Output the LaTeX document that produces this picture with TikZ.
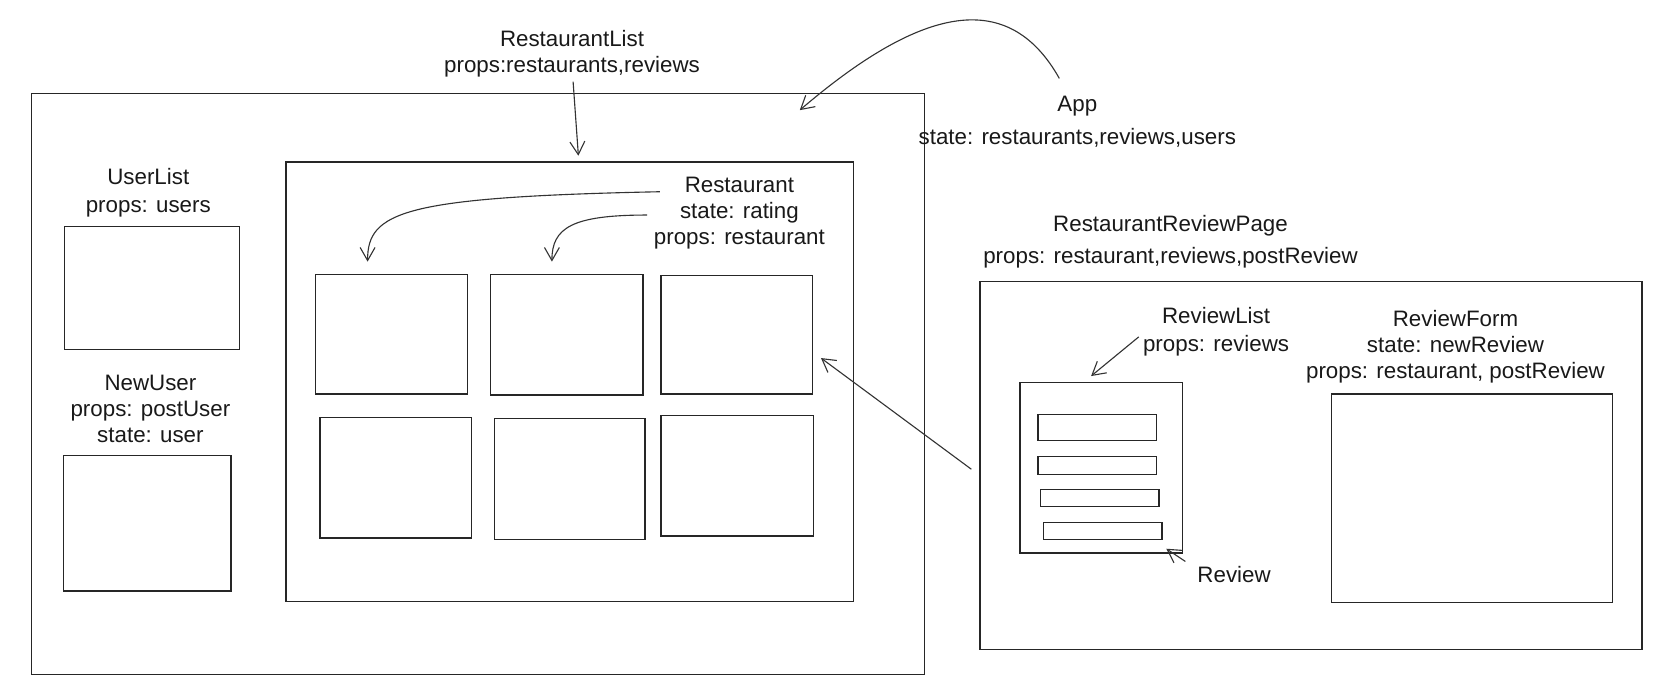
\documentclass[tikz,border=0pt]{standalone}
\usepackage{fontspec}
\setmainfont{Liberation Sans}
\usetikzlibrary{arrows.meta,fit}
\begin{document}
\begin{tikzpicture}[x=0.02cm,y=-0.02cm,
  line width=0.7pt,
  box/.style={draw=black!85, inner sep=0pt},
  lbl/.style={font=\fontsize{12}{14}\selectfont, align=center, inner sep=0pt, text=black!90},
  arr/.style={draw=black!80, line width=0.6pt, -{Straight Barb[length=7pt,width=8pt]}}]
\useasboundingbox (0,0) rectangle (1568,645);
% boxes
\node[box, fit={(30,88) (873,637)}] (app) {};
\node[box, fit={(270,153) (806,568)}] (rlist) {};
\node[box, fit={(298,259) (441,372)}] (r1) {};
\node[box, fit={(463,259) (607,373)}] (r2) {};
\node[box, fit={(624,260) (767,372)}] (r3) {};
\node[box, fit={(302,394) (445,508)}] (r4) {};
\node[box, fit={(467,395) (609,509)}] (r5) {};
\node[box, fit={(624,392) (768,506)}] (r6) {};
\node[box, fit={(61,214) (226,330)}] (ulist) {};
\node[box, fit={(60,430) (218,558)}] (nuser) {};
\node[box, fit={(925,266) (1550,613)}] (rrp) {};
\node[box, fit={(963,361) (1116,522)}] (revlist) {};
\node[box, fit={(980,391) (1092,416)}] (rv1) {};
\node[box, fit={(980,431) (1092,448)}] (rv2) {};
\node[box, fit={(982,462) (1094,478)}] (rv3) {};
\node[box, fit={(985,493) (1097,509)}] (rv4) {};
\node[box, fit={(1257,372) (1522,569)}] (rform) {};
% labels
\node[lbl] (rlistL) at (540,51) {RestaurantList\\props:restaurants,reviews};
\node[lbl] (appL) at (1017,115) {App\\[4pt]state: restaurants,reviews,users};
\node[lbl] (ulistL) at (140,182) {UserList\\[1pt]props: users};
\node[lbl] (nuserL) at (142,386) {NewUser\\props: postUser\\state: user};
\node[lbl] (restL) at (698,201) {Restaurant\\state: rating\\props: restaurant};
\node[lbl] (rrpL) at (1105,228) {RestaurantReviewPage\\[3pt]props: restaurant,reviews,postReview};
\node[lbl] (revlistL) at (1148,313) {ReviewList\\[1pt]props: reviews};
\node[lbl] (rformL) at (1374,327) {ReviewForm\\state: newReview\\props: restaurant, postReview};
\node[lbl] (reviewL) at (1165,542) {Review};
% connector end points
\coordinate (a1s) at (541,77);
\coordinate (a1e) at (546,147);
\coordinate (appS) at (1000,74);
\coordinate (appE) at (755,104);
\coordinate (ra1s) at (623,181);
\coordinate (ra1e) at (347,247);
\coordinate (ra2s) at (611,203);
\coordinate (ra2e) at (521,247);
\coordinate (rrpS) at (917,443);
\coordinate (rrpE) at (775,338);
\coordinate (rlS) at (1075,318);
\coordinate (rlE) at (1030,355);
\coordinate (rvS) at (1119,530);
\coordinate (rvE) at (1101,518);
% connectors
\draw[arr] (a1s) -- (a1e);
\draw[arr] (appS) .. controls (950,-15) and (865,10) .. (appE);
\draw[arr] (ra1s) .. controls (380,186) and (347,200) .. (ra1e);
\draw[arr] (ra2s) .. controls (540,203) and (521,215) .. (ra2e);
\draw[arr] (rrpS) -- (rrpE);
\draw[arr] (rlS) -- (rlE);
\draw[arr] (rvS) -- (rvE);
\end{tikzpicture}
\end{document}
